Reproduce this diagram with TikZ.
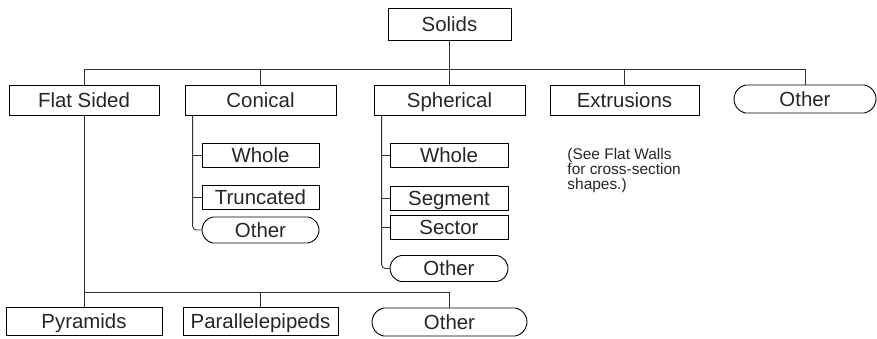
\documentclass[tikz,border=0pt]{standalone}
\usepackage{fontspec}
\setmainfont{Liberation Sans}
\usetikzlibrary{shapes.misc}
\begin{document}
\begin{tikzpicture}[x=1bp,y=-1bp,
  line width=0.9bp,
  every node/.style={inner sep=0pt, text=black!85},
  label text/.style={font=\fontsize{20.5}{24}\selectfont, text height=14.7bp, text depth=0bp},
  catbox/.style={draw, rectangle, label text, minimum height=30bp},
  subbox/.style={draw, rectangle, label text, minimum height=24bp, minimum width=117bp},
  pill/.style={draw, rounded rectangle, rounded rectangle arc length=160, label text},
  link/.style={draw=black!80, line width=0.9bp}
]
\useasboundingbox (0,0) rectangle (877,338);

% top level
\node[catbox, minimum width=123bp, minimum height=32bp] (solids) at (449.5,24) {Solids};

% first row of categories
\node[catbox, minimum width=150bp] (flat)  at (84,100)    {Flat Sided};
\node[catbox, minimum width=151bp] (con)   at (260.5,100) {Conical};
\node[catbox, minimum width=151bp] (sph)   at (449.5,100) {Spherical};
\node[catbox, minimum width=149bp] (extr)  at (624.5,100) {Extrusions};
\node[pill, minimum width=142bp, minimum height=28bp] (othA) at (805,99) {Other};

\node[anchor=north west, align=left, font=\fontsize{15.5}{15}\selectfont] (note)
  at (567,148) {(See Flat Walls\\for cross-section\\shapes.)};

% conical subtypes
\node[subbox] (conWhole) at (260.5,155) {Whole};
\node[subbox] (conTrunc) at (260.5,197) {Truncated};
\node[pill, minimum width=117bp, minimum height=26bp] (conOther) at (260.5,230) {Other};

% spherical subtypes
\node[subbox, minimum width=118bp] (sphWhole) at (449,155)   {Whole};
\node[subbox, minimum width=118bp] (sphSeg)   at (449,198)   {Segment};
\node[subbox, minimum width=118bp] (sphSec)   at (449,227.5) {Sector};
\node[pill, minimum width=118bp, minimum height=26bp] (sphOther) at (449,268.5) {Other};

% flat sided subtypes
\node[catbox, minimum width=156bp, minimum height=27.5bp] (pyr)  at (84,321.5)    {Pyramids};
\node[catbox, minimum width=155bp, minimum height=27.5bp] (para) at (260.5,321.5) {Parallelepipeds};
\node[pill, minimum width=155bp, minimum height=28bp] (othB) at (449.5,322) {Other};

% bus lines
\coordinate (bus)  at (449.5,69);
\coordinate (bus2) at (260.5,292);
\coordinate (cv) at ([xshift=8bp]con.south west);
\coordinate (sv) at ([xshift=8bp]sph.south west);

\draw[link] (solids.south) -- (bus);
\draw[link] (flat.north) -- (flat.north |- bus) -- (othA.north |- bus) -- (othA.north);
\draw[link] (con.north)  -- (con.north |- bus);
\draw[link] (sph.north)  -- (sph.north |- bus);
\draw[link] (extr.north) -- (extr.north |- bus);

% conical branch
\draw[link, rounded corners=4bp] (cv) |- (conOther.west);
\draw[link] (conWhole.west) -- (conWhole.west -| cv);
\draw[link] (conTrunc.west) -- (conTrunc.west -| cv);

% spherical branch
\draw[link, rounded corners=4bp] (sv) |- (sphOther.west);
\draw[link] (sphWhole.west) -- (sphWhole.west -| sv);
\draw[link] (sphSeg.west)   -- (sphSeg.west -| sv);
\draw[link] (sphSec.west)   -- (sphSec.west -| sv);

% flat sided branch
\draw[link] (flat.south) -- (flat.south |- bus2) -- (othB.north |- bus2) -- (othB.north);
\draw[link] (para.north) -- (para.north |- bus2);
\draw[link] (pyr.north) -- (pyr.north |- bus2);
\end{tikzpicture}
\end{document}
